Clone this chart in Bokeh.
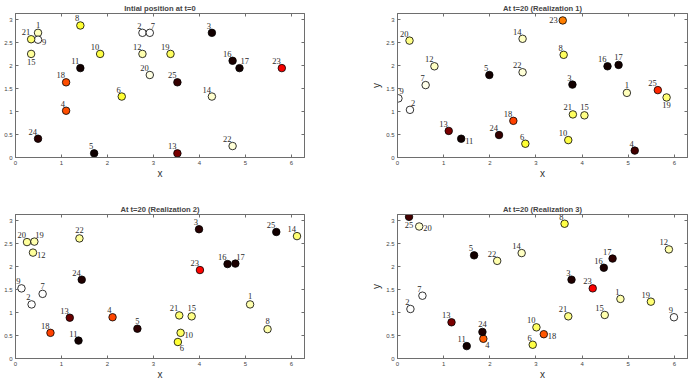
import numpy as np
from bokeh.plotting import figure
from bokeh.models import (ColumnDataSource, LabelSet, LinearAxis, LinearColorMapper,
                          Range1d, FixedTicker)
from bokeh.layouts import column, row
from bokeh.embed import file_html
from bokeh.resources import INLINE

# ---------------- data ----------------
ids = [str(i) for i in range(1, 26)]

titles = ["Intial position at t=0", "At t=20 (Realization 1)",
          "At t=20 (Realization 2)", "At t=20 (Realization 3)"]

x_ticks = [0, 1, 2, 3, 4, 5, 6]
x_tick_labels = ["0", "1", "2", "3", "4", "5", "6"]
y_ticks = [0, 0.5, 1, 1.5, 2, 2.5, 3]
y_tick_labels = ["0", "0.5", "1", "1.5", "2", "2.5", "3"]

# initial positions (t=0), ids 1..25
x_t0 = [0.49, 2.76, 4.27, 1.10, 1.71, 2.31, 2.92, 1.41, 0.49, 1.84, 1.41, 2.76, 3.52,
        4.27, 0.34, 4.72, 4.87, 1.10, 3.37, 2.92, 0.34, 4.72, 5.79, 0.49, 3.52]
y_t0 = [2.72, 2.72, 2.72, 1.02, 0.09, 1.33, 2.72, 2.88, 2.57, 2.26, 1.95, 2.26, 0.09,
        1.33, 2.26, 2.11, 1.95, 1.64, 2.26, 1.80, 2.58, 0.25, 1.95, 0.41, 1.64]
heat_t0 = [0.93, 1.00, 0.03, 0.49, 0.02, 0.80, 1.00, 0.80, 1.00, 0.82, 0.03, 0.92, 0.18,
           0.95, 0.90, 0.04, 0.03, 0.49, 0.84, 0.97, 0.86, 0.96, 0.36, 0.06, 0.08]

# realization 1 at t=20
x_r1 = [4.97, 0.27, 3.79, 5.14, 1.99, 2.77, 0.61, 3.60, 0.02, 3.70, 1.38, 0.80, 1.11,
        2.71, 4.05, 4.55, 4.79, 2.51, 5.83, 0.26, 3.80, 2.71, 3.58, 2.20, 5.64]
y_r1 = [1.41, 1.04, 1.59, 0.15, 1.80, 0.30, 1.58, 2.24, 1.29, 0.38, 0.41, 1.99, 0.58,
        2.59, 0.92, 1.99, 2.02, 0.80, 1.31, 2.55, 0.94, 1.86, 2.99, 0.49, 1.47]
heat_r1 = [0.93, 1.00, 0.03, 0.10, 0.03, 0.80, 0.98, 0.84, 1.00, 0.82, 0.03, 0.94, 0.18,
           0.94, 0.88, 0.03, 0.03, 0.47, 0.86, 0.88, 0.84, 0.96, 0.56, 0.08, 0.43]

# realization 2 at t=20
x_r2 = [5.10, 0.35, 3.99, 2.11, 2.65, 3.53, 0.59, 5.48, 0.13, 3.59, 1.37, 0.38, 1.18,
        6.12, 3.83, 4.61, 4.78, 0.76, 0.41, 0.25, 3.56, 1.39, 4.01, 1.44, 5.67]
y_r2 = [1.18, 1.18, 2.82, 0.90, 0.65, 0.36, 1.41, 0.64, 1.53, 0.56, 0.39, 2.31, 0.89,
        2.67, 0.92, 2.06, 2.07, 0.56, 2.55, 2.54, 0.94, 2.62, 1.93, 1.72, 2.76]
heat_r2 = [0.92, 1.00, 0.06, 0.48, 0.07, 0.80, 1.00, 0.92, 1.00, 0.84, 0.03, 0.90, 0.16,
           0.86, 0.88, 0.04, 0.04, 0.47, 0.92, 0.90, 0.86, 0.90, 0.38, 0.05, 0.03]

# realization 3 at t=20
x_r3 = [4.83, 0.28, 3.77, 1.86, 1.66, 2.93, 0.54, 3.62, 5.99, 3.01, 1.50, 5.88, 1.17,
        2.69, 4.49, 4.47, 4.66, 3.17, 5.49, 0.47, 3.70, 2.16, 4.23, 1.84, 0.25]
y_r3 = [1.30, 1.08, 1.72, 0.43, 2.25, 0.30, 1.37, 2.94, 0.90, 0.68, 0.27, 2.38, 0.79,
        2.30, 0.95, 1.98, 2.18, 0.53, 1.24, 2.88, 0.92, 2.13, 1.53, 0.58, 3.09]
heat_r3 = [0.92, 1.00, 0.05, 0.51, 0.03, 0.82, 1.00, 0.82, 1.00, 0.84, 0.03, 0.92, 0.18,
           0.94, 0.92, 0.04, 0.07, 0.50, 0.86, 0.95, 0.88, 0.92, 0.37, 0.05, 0.10]

# label placement codes (style)
pos_t0 = ["u", "ul", "ul", "ul", "ul", "ul", "ur", "ul", "r", "ul", "ul", "ul", "ul",
          "ul", "d", "ul", "ur", "ul", "ul", "ul", "ul", "ul", "ul", "ul", "ul"]
pos_r1 = ["u", "ur", "ul", "ul", "ul", "ul", "ul", "ul", "ur", "ul", "r", "ul", "ul",
          "ul", "u", "ul", "u", "ul", "d", "ul", "ul", "ul", "l", "ul", "ul"]
pos_r2 = ["u", "ul", "ul", "ul", "u", "dr", "u", "u", "ul", "r", "ul", "r", "ul",
          "ul", "u", "ul", "ur", "ul", "ur", "ul", "ul", "u", "ul", "ul", "ul"]
pos_r3 = ["ul", "ul", "ul", "dr", "ul", "ul", "ul", "ul", "ul", "ul", "ul", "ul", "ul",
          "ul", "ul", "ul", "ul", "r", "ul", "r", "ul", "ul", "ul", "u", "d"]

# ---------------- styling ----------------
ANCH = {
    "ul": ("right", "alphabetic", -1, 4),
    "ur": ("left", "alphabetic", 1, 4),
    "u": ("center", "alphabetic", 0, 5),
    "r": ("left", "middle", 4, -2),
    "l": ("right", "middle", -5, 0),
    "d": ("center", "top", 0, -5),
    "dr": ("left", "top", 2, -3),
}


def hot(t):
    r = np.clip(t * 8 / 3, 0, 1)
    g = np.clip((t - 3 / 8) * 8 / 3, 0, 1)
    b = np.clip((t - 3 / 4) * 4, 0, 1)
    return "#%02x%02x%02x" % (int(r * 255), int(g * 255), int(b * 255))


palette = [hot(t) for t in np.linspace(0, 1, 256)]
mapper = LinearColorMapper(palette=palette, low=0, high=1)

FONT = "Liberation Sans"
AX_COL = "#6e6e6e"


def style_axis(ax, show_labels):
    ax.major_tick_in = 3
    ax.major_tick_out = 0
    ax.minor_tick_line_color = None
    ax.axis_line_color = AX_COL
    ax.major_tick_line_color = AX_COL
    ax.major_label_text_font = FONT
    ax.major_label_text_color = "#444444"
    if show_labels:
        ax.major_label_text_font_size = "6px"
    else:
        ax.major_label_text_font_size = "0px"
        ax.major_label_standoff = 0


def make_panel(title, xs, ys, heats, codes, left, right, top, bottom, frame_h, ylabel):
    p = figure(frame_width=right[1], frame_height=frame_h,
               x_range=Range1d(0, 2 * np.pi), y_range=Range1d(0, np.pi),
               output_backend="svg", toolbar_location=None,
               min_border_left=left, min_border_right=right[0],
               min_border_top=top, min_border_bottom=bottom,
               background_fill_color="white", border_fill_color="white")
    p.grid.visible = False
    p.outline_line_color = AX_COL
    p.title.text = title
    p.title.text_font = FONT
    p.title.text_font_size = "7.6px"
    p.title.text_font_style = "bold"
    p.title.align = "center"
    p.title.standoff = 2

    for ax in p.xaxis:
        style_axis(ax, True)
        ax.ticker = FixedTicker(ticks=x_ticks)
        ax.major_label_overrides = dict(zip(x_ticks, x_tick_labels))
        ax.major_label_standoff = 3
        ax.axis_label = "x"
        ax.axis_label_text_font = FONT
        ax.axis_label_text_font_size = "10px"
        ax.axis_label_text_font_style = "normal"
        ax.axis_label_text_color = "#333333"
        ax.axis_label_standoff = 0
    for ax in p.yaxis:
        style_axis(ax, True)
        ax.ticker = FixedTicker(ticks=y_ticks)
        ax.major_label_overrides = dict(zip(y_ticks, y_tick_labels))
        ax.major_label_standoff = 3
        if ylabel:
            ax.axis_label = "y"
            ax.axis_label_text_font = FONT
            ax.axis_label_text_font_size = "10px"
            ax.axis_label_text_font_style = "normal"
            ax.axis_label_text_color = "#333333"
            ax.axis_label_standoff = 1

    top_ax = LinearAxis(ticker=FixedTicker(ticks=x_ticks))
    style_axis(top_ax, False)
    top_ax.major_label_overrides = {t: "" for t in x_ticks}
    p.add_layout(top_ax, "above")
    right_ax = LinearAxis(ticker=FixedTicker(ticks=y_ticks))
    style_axis(right_ax, False)
    right_ax.major_label_overrides = {t: "" for t in y_ticks}
    p.add_layout(right_ax, "right")

    src = ColumnDataSource(dict(
        x=xs, y=ys, heat=heats, name=ids,
        align=[ANCH[c][0] for c in codes],
        base=[ANCH[c][1] for c in codes],
        dx=[ANCH[c][2] for c in codes],
        dy=[ANCH[c][3] for c in codes],
    ))
    p.scatter("x", "y", source=src, size=7.5,
              fill_color={"field": "heat", "transform": mapper},
              line_color="black", line_width=0.8)
    labels = LabelSet(x="x", y="y", text="name", source=src,
                      x_offset="dx", y_offset="dy",
                      text_align="align", text_baseline="base",
                      text_font=FONT, text_font_size="8.5px",
                      text_color="#2a2a2a")
    p.add_layout(labels)
    return p


p1 = make_panel(titles[0], x_t0, y_t0, heat_t0, pos_t0, 15, (41, 289), 13, 32, 144, False)
p2 = make_panel(titles[1], x_r1, y_r1, heat_r1, pos_r1, 52, (4, 290), 13, 32, 144, True)
p3 = make_panel(titles[2], x_r2, y_r2, heat_r2, pos_r2, 15, (41, 289), 25, 18, 144, False)
p4 = make_panel(titles[3], x_r3, y_r3, heat_r3, pos_r3, 52, (4, 290), 25, 18, 144, True)

p = column(row(p1, p2), row(p3, p4))

open("out.html", "w").write(file_html(p, INLINE))
